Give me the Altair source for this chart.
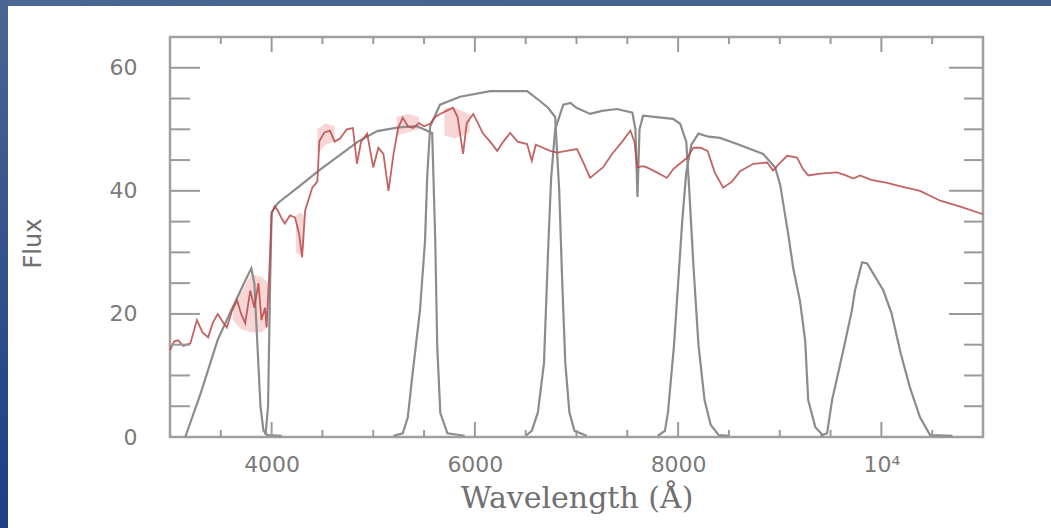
import altair as alt
import pandas as pd

# ---------------- data ----------------
u_wl = [3150, 3300, 3470, 3600, 3700, 3800, 3830, 3860, 3890, 3920, 3960, 4100]
u_t = [0, 7, 15.8, 20.5, 24, 27.4, 25, 15, 5, 1, 0.3, 0.2]

g_wl = [3940, 3965, 3985, 4000, 4060, 4330, 4480, 4670, 4850, 5040, 5250, 5430, 5580, 5610, 5630, 5660, 5730, 5900]
g_t = [0.3, 5, 25, 36.5, 38, 41.5, 43.5, 45.8, 48, 49.7, 50.3, 50.5, 49.4, 32, 14.6, 3.9, 0.6, 0.2]

r_wl = [5200, 5290, 5340, 5380, 5460, 5510, 5530, 5560, 5657, 5854, 6150, 6514, 6640, 6720, 6790, 6830, 6860, 6890, 6930, 6980, 7100]
r_t = [0.2, 0.6, 3.2, 9.3, 20.6, 32, 42, 50.5, 54, 55.3, 56.2, 56.2, 54.6, 53.5, 52, 40, 25, 12, 4, 1, 0.2]

i_wl = [6500, 6560, 6620, 6680, 6720, 6750, 6790, 6870, 6940, 7000, 7134, 7250, 7400, 7550, 7580, 7600, 7620, 7655, 7950, 8020, 8080, 8110, 8150, 8200, 8260, 8320, 8400, 8500]
i_t = [0.2, 1, 4, 12, 30, 42, 50, 54, 54.3, 53.5, 52.5, 53, 53.3, 52.7, 50, 39, 50, 52.2, 51.7, 50.9, 48, 40, 28, 15, 6, 2, 0.3, 0.2]

z_wl = [7800, 7870, 7900, 7960, 8000, 8040, 8080, 8130, 8200, 8300, 8413, 8600, 8837, 8955, 9004, 9083, 9132, 9200, 9250, 9280, 9350, 9430]
z_t = [0.2, 1, 4, 15, 25, 35, 43, 47.5, 49.3, 48.8, 48.6, 47.5, 46, 43.8, 41, 33, 27.5, 22, 15.7, 6, 1.6, 0.2]

y_wl = [9400, 9466, 9515, 9575, 9640, 9710, 9740, 9810, 9860, 10020, 10100, 10190, 10280, 10380, 10480, 10700]
y_t = [0.2, 0.6, 6, 10.4, 15.2, 20.6, 23.8, 28.4, 28.2, 23.8, 20.1, 13.6, 8.1, 3.2, 0.3, 0.2]

spec_wl = [3000, 3040, 3080, 3130, 3200, 3265, 3320, 3375, 3420, 3470, 3520, 3560, 3610, 3660,
           3700, 3740, 3790, 3830, 3870, 3900, 3935, 3950, 3975, 4000, 4030, 4060, 4100, 4130,
           4180, 4230, 4270, 4300, 4330, 4400, 4450, 4470, 4520, 4575, 4620, 4673, 4740, 4800,
           4840, 4880, 4940, 5000, 5050, 5100, 5150, 5200, 5245, 5290, 5340, 5390, 5450, 5500,
           5560, 5610, 5657, 5720, 5785, 5830, 5884, 5920, 5983, 6030, 6080, 6150, 6220, 6280,
           6347, 6420, 6514, 6560, 6600, 6670, 6740, 6810, 6900, 7005, 7070, 7134, 7200, 7260,
           7350, 7450, 7530, 7570, 7597, 7650, 7693, 7790, 7890, 7950, 8000, 8090, 8150, 8220,
           8290, 8360, 8443, 8530, 8610, 8740, 8875, 8935, 9000, 9073, 9170, 9230, 9280, 9400,
           9565, 9650, 9725, 9790, 9900, 10057, 10200, 10380, 10580, 10800, 11000]
spec_f = [14.1, 15.5, 15.7, 14.8, 15.2, 19, 17, 16.2, 18.5, 20, 18.7, 17.8, 20.5, 22.2,
          20, 18.5, 23.8, 21, 25, 19, 21, 17.8, 26, 36.3, 37.5, 36.8, 35.5, 34.7,
          36, 35.7, 33, 29.2, 36.8, 40.5, 41.5, 48.1, 49.5, 49.8, 48, 48.5, 50, 50.2,
          44.4, 48, 49.3, 43.8, 47, 46, 40, 46, 50.2, 51.9, 50.5, 50.2, 51, 50.5,
          50.9, 52, 52.5, 53, 53.5, 52, 46, 51, 52.5, 51, 49.3, 48, 46.5, 48,
          49.4, 48, 47.6, 44.9, 47.5, 47, 46.5, 46.2, 46.5, 46.8, 44.5, 42.1, 43, 43.8,
          46, 48, 49.8, 48, 43.8, 44, 43.8, 43, 42.1, 43.5, 44.2, 45.4, 47, 47,
          46.5, 43, 40.5, 41.5, 43.2, 44.4, 44.6, 43.3, 44.5, 45.7, 45.4, 43.5, 42.5, 42.8,
          43, 42.5, 42, 42.5, 41.8, 41.3, 40.7, 40, 38.4, 37.3, 36.2]

# noisy envelope (pink shading) of the spectrum
band_seg = [1, 1, 1, 1, 1, 2, 2, 2, 3, 3, 3, 4, 4, 4, 5, 5, 5]
band_wl = [3620, 3700, 3800, 3900, 3970, 4240, 4280, 4320, 4450, 4530, 4620, 5230, 5340, 5450,
           5700, 5800, 5950]
band_lo = [19, 17.5, 17, 17, 18, 30, 29.5, 31, 46, 47.5, 48, 49, 49.5, 50, 49, 48.5, 49.5]
band_hi = [21.5, 23.5, 26.5, 26, 25, 36, 36.5, 36, 50, 51, 50.5, 52, 52.5, 52, 53.5, 53.5, 52.5]

x_major = [4000, 6000, 8000, 10000]
x_minor = [3500, 4500, 5000, 5500, 6500, 7000, 7500, 8500, 9000, 9500, 10500]
y_major = [20, 40, 60]
y_minor = [5, 10, 15, 25, 30, 35, 45, 50, 55]

# ---------------- tables ----------------
filt_rows = []
for name, wl, t in [("u", u_wl, u_t), ("g", g_wl, g_t), ("r", r_wl, r_t),
                    ("i", i_wl, i_t), ("z", z_wl, z_t), ("y", y_wl, y_t)]:
    for a, b in zip(wl, t):
        filt_rows.append({"band": name, "wl": a, "t": b})
filt_df = pd.DataFrame(filt_rows)
spec_df = pd.DataFrame({"wl": spec_wl, "f": spec_f})
band_df = pd.DataFrame({"seg": band_seg, "wl": band_wl, "lo": band_lo, "hi": band_hi})
one = pd.DataFrame({"k": [0]})

W, H = 813, 400
xs = alt.Scale(domain=[3000, 11000], nice=False, zero=False)
ys = alt.Scale(domain=[0, 65], nice=False, zero=False)

GRAY = "#8c8c8c"
TICK = "#9a9a9a"

x_axis = alt.Axis(values=x_major, ticks=False, domain=False, grid=False, format="d",
                  labelExpr="datum.value == 10000 ? '10⁴' : datum.label",
                  labelFont="DejaVu Sans", labelFontSize=22, labelColor="#7a7a7a",
                  labelPadding=17, title="Wavelength (Å)", titleFont="DejaVu Serif",
                  titleFontSize=30, titleFontWeight="normal", titleColor="#707070",
                  titlePadding=8)
y_axis = alt.Axis(values=[0, 20, 40, 60], ticks=False, domain=False, grid=False,
                  labelFont="DejaVu Sans", labelFontSize=22, labelColor="#7a7a7a",
                  labelPadding=33, title="Flux", titleFont="DejaVu Sans",
                  titleFontSize=24, titleFontWeight="normal", titleColor="#707070",
                  titleX=-137, titleY=206, titleAngle=270, titleAlign="center",
                  titleBaseline="middle")

# decorative blue frame strips
left_strip = alt.Chart(one).mark_rect(
    fill=alt.Gradient(gradient="linear",
                      stops=[alt.GradientStop(color="#4a6692", offset=0),
                             alt.GradientStop(color="#1d3d86", offset=1)],
                      x1=0, x2=0, y1=0, y2=1)
).encode(x=alt.value(-170), x2=alt.value(-162), y=alt.value(-37), y2=alt.value(H + 91))
top_strip = alt.Chart(one).mark_rect(
    fill=alt.Gradient(gradient="linear",
                      stops=[alt.GradientStop(color="#4a6692", offset=0),
                             alt.GradientStop(color="#43608e", offset=1)],
                      x1=0, x2=1, y1=0, y2=0)
).encode(x=alt.value(-170), x2=alt.value(W + 68), y=alt.value(-37), y2=alt.value(-31))

bands = alt.Chart(band_df).mark_area(color="#f2a3a3", opacity=0.45).encode(
    x=alt.X("wl:Q", scale=xs, axis=x_axis),
    y=alt.Y("lo:Q", scale=ys, axis=y_axis),
    y2="hi:Q",
    detail="seg:N",
)

filters = alt.Chart(filt_df).mark_line(color=GRAY, strokeWidth=2.2).encode(
    x=alt.X("wl:Q", scale=xs),
    y=alt.Y("t:Q", scale=ys),
    detail="band:N",
)

spectrum = alt.Chart(spec_df).mark_line(color="#b94848", strokeWidth=1.8, opacity=0.85).encode(
    x=alt.X("wl:Q", scale=xs),
    y=alt.Y("f:Q", scale=ys),
)

def xticks(vals, length):
    d = pd.DataFrame({"v": vals})
    b = alt.Chart(d).mark_rule(color=TICK, strokeWidth=2).encode(
        x=alt.X("v:Q", scale=xs), y=alt.value(H), y2=alt.value(H - length))
    t = alt.Chart(d).mark_rule(color=TICK, strokeWidth=2).encode(
        x=alt.X("v:Q", scale=xs), y=alt.value(0), y2=alt.value(length))
    return [b, t]

def yticks(vals, length_l, length_r):
    d = pd.DataFrame({"v": vals})
    l = alt.Chart(d).mark_rule(color=TICK, strokeWidth=2).encode(
        y=alt.Y("v:Q", scale=ys), x=alt.value(0), x2=alt.value(length_l))
    r = alt.Chart(d).mark_rule(color=TICK, strokeWidth=2).encode(
        y=alt.Y("v:Q", scale=ys), x=alt.value(W), x2=alt.value(W - length_r))
    return [l, r]

layers = [left_strip, top_strip, bands, filters, spectrum]
layers += xticks(x_major, 15) + xticks(x_minor, 7)
layers += yticks(y_major, 30, 34) + yticks(y_minor, 20, 19)

chart = alt.layer(*layers).properties(
    width=W, height=H, background="white",
    padding={"left": 170, "top": 37, "right": 68, "bottom": 91},
    autosize=alt.AutoSizeParams(type="none"),
).configure_view(stroke="#a0a0a0", strokeWidth=2.5)

chart.save("out.html", embed_options={"renderer": "svg", "actions": False})
